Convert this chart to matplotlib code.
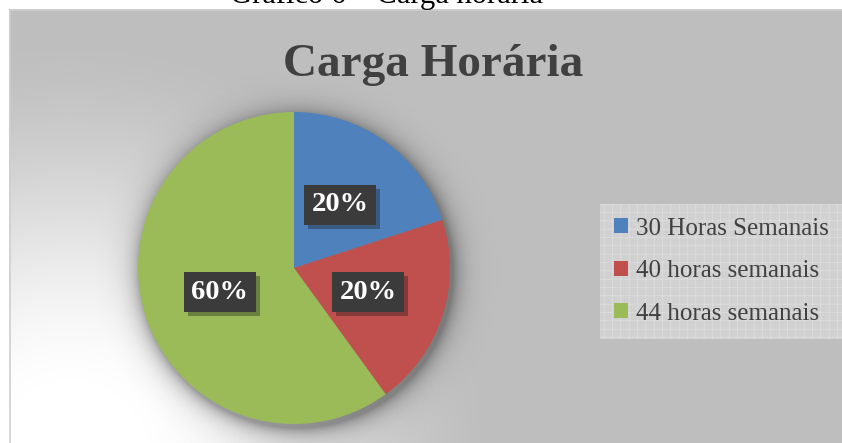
import numpy as np
import matplotlib
matplotlib.use("Agg")
import matplotlib.pyplot as plt
from matplotlib import patheffects as pe
from matplotlib.font_manager import FontProperties

# ---- data ----
categories = ["30 Horas Semanais", "40 horas semanais", "44 horas semanais"]
values = [20, 20, 60]
colors = ["#4f81bd", "#c0504d", "#9bbb59"]
title = "Carga Horária"
caption = "Gráfico 6 – Carga horária"

W, H = 842, 443
fig = plt.figure(figsize=(W / 100, H / 100), dpi=100)
ax = fig.add_axes([0, 0, 1, 1])

# ---- background: white outside, gradient panel inside frame ----
yy, xx = np.mgrid[0:H, 0:W] + 0.5
d = np.hypot(xx - 70, yy - 460)
t = np.clip((d - 80) / 330, 0, 1)
t = t * t * (3 - 2 * t) * 0.6 + t * 0.4
v = 1 - t * (1 - 0.749)
img = np.dstack([v, v, v])
img[(xx < 9) | (yy < 9)] = 1.0
ax.imshow(img, extent=(0, W, 0, H), origin="upper", zorder=0, interpolation="bilinear")
ax.plot([9.5, 9.5], [0, H - 9.5], color="#cfcfcf", lw=1.2, zorder=1)
ax.plot([9.5, W], [H - 9.5, H - 9.5], color="#cfcfcf", lw=1.2, zorder=1)

# ---- pie geometry (pixel space, y up) ----
cx, cy, r = 294, H - 268, 156

# soft shadow around the pie
ds = np.hypot(xx - (cx + 3), (H - yy) - (cy - 4))
alpha = np.where(ds > r - 2, 0.36 * np.exp(-np.clip(ds - r, 0, None) / 10.0), 0.36)
shadow = np.zeros((H, W, 4))
shadow[..., 3] = alpha
ax.imshow(shadow, extent=(0, W, 0, H), origin="upper", zorder=2)

wedges, texts, autotexts = ax.pie(
    values, colors=colors, startangle=90, counterclock=False,
    center=(cx, cy), radius=r, autopct="%1.0f%%", pctdistance=0.5,
    wedgeprops=dict(linewidth=0), frame=True,
)
for w in wedges:
    w.set_zorder(3)

label_fp = FontProperties(family=["Liberation Serif", "DejaVu Serif"], weight="bold", size=20.5)
for at in autotexts:
    at.set_color("white")
    at.set_fontproperties(label_fp)
    at.set_zorder(6)
    at.set_bbox(dict(boxstyle="square,pad=0.26", facecolor="#3b3b3b", edgecolor="none"))
    at.get_bbox_patch().set_path_effects(
        [pe.SimplePatchShadow(offset=(3, -3), alpha=0.35), pe.Normal()])

# ---- title and caption ----
ax.text(433, H - 76, title, ha="center", va="baseline", color="#404040",
        family=["Liberation Serif", "DejaVu Serif"], weight="bold", size=34, zorder=7)
ax.text(387, H - 2.5, caption, ha="center", va="baseline", color="black",
        family=["Liberation Serif", "DejaVu Serif"], size=22, zorder=7, clip_on=False)

# ---- legend ----
plt.rcParams["hatch.linewidth"] = 0.5
leg = ax.legend(wedges, categories, loc="upper left",
                bbox_to_anchor=(600 / W, 1 - 204 / H), bbox_transform=ax.transAxes,
                prop=dict(family=["Liberation Serif", "DejaVu Serif"], size=18),
                frameon=True, fancybox=False, borderpad=0.55, labelspacing=0.82,
                handlelength=0.55, handleheight=0.55, handletextpad=0.35,
                borderaxespad=0)
fr = leg.get_frame()
fr.set_facecolor("#d6d6d6")
fr.set_edgecolor("#e2e2e2")
fr.set_linewidth(0)
fr.set_hatch("++")
for txt in leg.get_texts():
    txt.set_color("#404040")
leg.set_zorder(8)

ax.set_xlim(0, W)
ax.set_ylim(0, H)
ax.set_aspect("auto")
ax.set_axis_off()

fig.savefig("out.png", dpi=100)
